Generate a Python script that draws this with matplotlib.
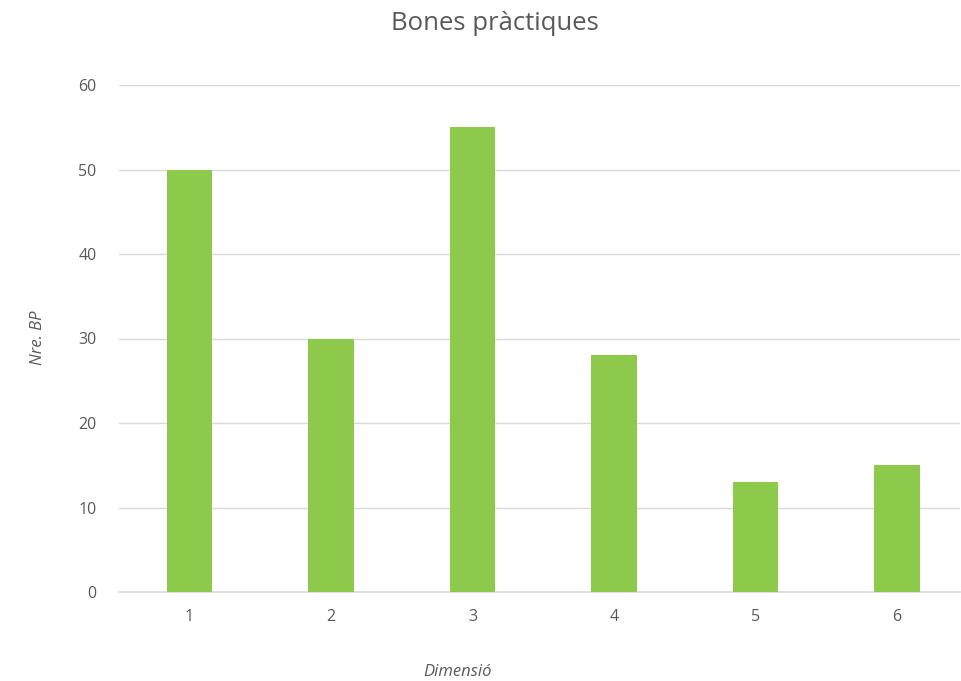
import matplotlib
matplotlib.use("Agg")
import matplotlib.pyplot as plt

# data
dimensions = [1, 2, 3, 4, 5, 6]
nre_bp = [50, 30, 55, 28, 13, 15]
y_ticks = [0, 10, 20, 30, 40, 50, 60]

plt.rcParams['font.family'] = ['Open Sans', 'DejaVu Sans']
text_grey = '#595959'
grid_grey = '#d9d9d9'

fig = plt.figure(figsize=(9.61, 6.81), dpi=100)
ax = fig.add_axes([118.75 / 961, 1 - 592 / 681, (960 - 118.75) / 961, (592 - 85) / 681])

ax.bar(dimensions, nre_bp, width=0.32, color='#8dc94b', zorder=3)

ax.set_xlim(0.5, 6.445)
ax.set_ylim(0, 60)
ax.set_xticks(dimensions)
ax.set_yticks(y_ticks)
ax.tick_params(axis='both', length=0, colors=text_grey, labelsize=11.5)
ax.tick_params(axis='x', pad=12)
ax.tick_params(axis='y', pad=16)

ax.grid(axis='y', color=grid_grey, linewidth=1, zorder=0)
for side in ['top', 'right', 'left']:
    ax.spines[side].set_visible(False)
ax.spines['bottom'].set_color(grid_grey)
ax.spines['bottom'].set_linewidth(1.2)

# axis titles sit where Excel put them, not centred on the plot area
fig.text(458 / 961, 1 - 672 / 681, 'Dimensió', ha='center', va='center',
         style='italic', color=text_grey, fontsize=12)
fig.text(38 / 961, 1 - 338 / 681, 'Nre. BP', ha='center', va='center', rotation=90,
         style='italic', color=text_grey, fontsize=12)
fig.text(495 / 961, 1 - 24 / 681, 'Bones pràctiques', ha='center', va='center',
         color=text_grey, fontsize=18.5)

plt.savefig('out.png', dpi=100)
